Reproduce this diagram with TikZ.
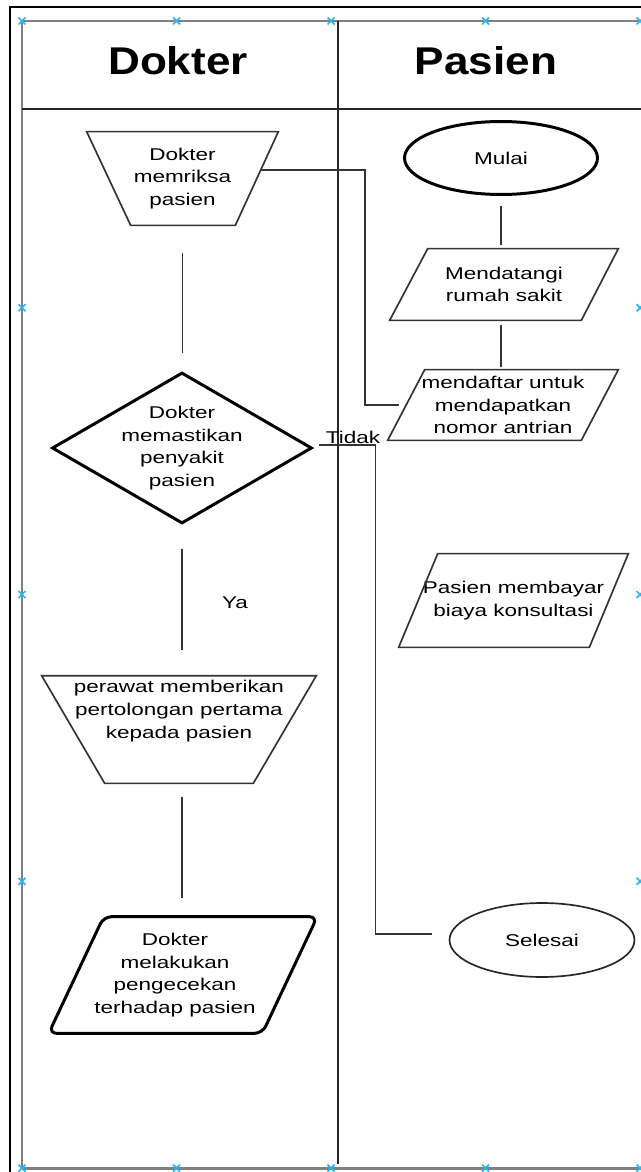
\documentclass[tikz,border=0pt]{standalone}
\usepackage{fontspec}
\usetikzlibrary{shapes.geometric}
\newfontfamily\bodyfont[FakeStretch=1.32]{Liberation Sans}
\newfontfamily\headfont[FakeStretch=1.14]{Liberation Sans}
\definecolor{handleblue}{RGB}{41,182,242}

\tikzset{
  txt/.style={font=\bodyfont\fontsize{9.7}{12.9}\selectfont, align=center, inner sep=0pt},
  lanehead/.style={font=\headfont\bfseries\fontsize{22}{26}\selectfont, inner sep=0pt},
  area/.style 2 args={txt, rectangle, minimum width=#1, minimum height=#2},
  terminal/.style={txt, ellipse, draw=black!85},
  decision/.style={diamond, draw=black, line width=1.7pt, inner sep=0pt,
                   minimum width=5.2cm, minimum height=3.02cm},
  outline/.style={draw=black!80, line width=0.95pt},
  boldline/.style={draw=black, line width=1.7pt},
  link/.style={draw=black!80, line width=1.1pt},
  handle/.style={draw=handleblue, line width=1pt},
}

\begin{document}
\begin{tikzpicture}[x=0.02cm, y=-0.02cm]
\useasboundingbox (0,0) rectangle (641,1172);

% frame and lanes
\draw[line width=1.7pt] (10,1172) -- (10,7) -- (641,7);
\draw[black!50, line width=1.7pt] (22,1168) -- (22,21) -- (642,21);
\draw[black!50, line width=1.7pt] (22,1168) -- (642,1168);
\draw[black!85, line width=0.9pt] (22,109) -- (641,109);
\draw[black!85, line width=0.9pt] (338,21) -- (338,1164);

\foreach \x in {22,176.5,331,485.5,640}
  \foreach \y in {21,1168}
    \draw[handle] (\x-3.5,\y-3.5) -- (\x+3.5,\y+3.5) (\x-3.5,\y+3.5) -- (\x+3.5,\y-3.5);
\foreach \y in {307.75,594.5,881.25}
  \foreach \x in {22,640}
    \draw[handle] (\x-3.5,\y-3.5) -- (\x+3.5,\y+3.5) (\x-3.5,\y+3.5) -- (\x+3.5,\y-3.5);

\node[lanehead] (dokter) at (178,61) {Dokter};
\node[lanehead] (pasien) at (486,61) {Pasien};

% Dokter lane
\node[area={3.82cm}{1.86cm}] (periksa) at (182.5,178.5) {Dokter\\memriksa\\pasien};
\draw[outline] (periksa.north west) -- (periksa.north east)
  -- ([xshift=-0.86cm]periksa.south east) -- ([xshift=0.88cm]periksa.south west) -- cycle;

\node[decision, label={[txt]center:{Dokter\\memastikan\\penyakit\\pasien}}] (pastikan) at (182,448) {};

\node[area={5.48cm}{2.14cm},
      label={[txt,yshift=0.37cm]center:{perawat memberikan\\pertolongan pertama\\kepada pasien}}]
  (rawat) at (179,729.5) {};
\draw[outline] (rawat.north west) -- (rawat.north east)
  -- ([xshift=-1.26cm]rawat.south east) -- ([xshift=1.26cm]rawat.south west) -- cycle;

\node[area={5.36cm}{2.32cm},
      label={[txt,xshift=-0.16cm]center:{Dokter\\melakukan\\pengecekan\\terhadap pasien}}]
  (cek) at (183,975) {};
\draw[boldline, rounded corners=0.16cm] ([xshift=1.1cm]cek.north west) -- (cek.north east)
  -- ([xshift=-1.1cm]cek.south east) -- (cek.south west) -- cycle;

% Pasien lane
\node[terminal, draw=black, line width=1.7pt, minimum width=3.86cm, minimum height=1.46cm]
  (mulai) at (501,158) {Mulai};

\node[area={4.56cm}{1.42cm}] (datang) at (504,284.5) {Mendatangi\\rumah sakit};
\draw[outline] ([xshift=0.76cm]datang.north west) -- (datang.north east)
  -- ([xshift=-0.74cm]datang.south east) -- (datang.south west) -- cycle;

\node[area={4.6cm}{1.4cm}] (daftar) at (503,405) {mendaftar untuk\\mendapatkan\\nomor antrian};
\draw[outline] ([xshift=0.74cm]daftar.north west) -- (daftar.north east)
  -- ([xshift=-0.74cm]daftar.south east) -- (daftar.south west) -- cycle;

\node[area={4.58cm}{1.86cm}] (bayar) at (513.5,600.5) {Pasien membayar\\biaya konsultasi};
\draw[outline] ([xshift=0.78cm]bayar.north west) -- (bayar.north east)
  -- ([xshift=-0.78cm]bayar.south east) -- (bayar.south west) -- cycle;

\node[terminal, line width=0.95pt, minimum width=3.7cm, minimum height=1.48cm]
  (selesai) at (542,940) {Selesai};

% connectors
\draw[link, shorten <=0.56cm, shorten >=0.36cm] (periksa.south) -- (periksa.south |- pastikan.north);
\draw[link, shorten <=0.48cm, shorten >=0.52cm] (pastikan.south) -- (pastikan.south |- rawat.north);
\draw[link, shorten <=0.28cm, shorten >=0.38cm] (pastikan.south |- rawat.south) -- (pastikan.south |- cek.north);
\draw[link, shorten <=0.21cm, shorten >=0.08cm] (mulai.south) -- (mulai.south |- datang.north);
\draw[link, shorten <=0.1cm, shorten >=0.06cm] (mulai.south |- datang.south) -- (mulai.south |- daftar.north);

\draw[link] ([xshift=-0.34cm,yshift=0.17cm]periksa.east) -- ++(104,0) |- ([xshift=0.22cm]daftar.west);
\draw[link] ([xshift=0.12cm,yshift=0.06cm]pastikan.east) -- ++(56,0) |- ([xshift=-0.34cm,yshift=0.12cm]selesai.west);

\node[txt] (tidak) at (353,437) {Tidak};
\node[txt] (ya) at (235,603) {Ya};
\end{tikzpicture}
\end{document}
